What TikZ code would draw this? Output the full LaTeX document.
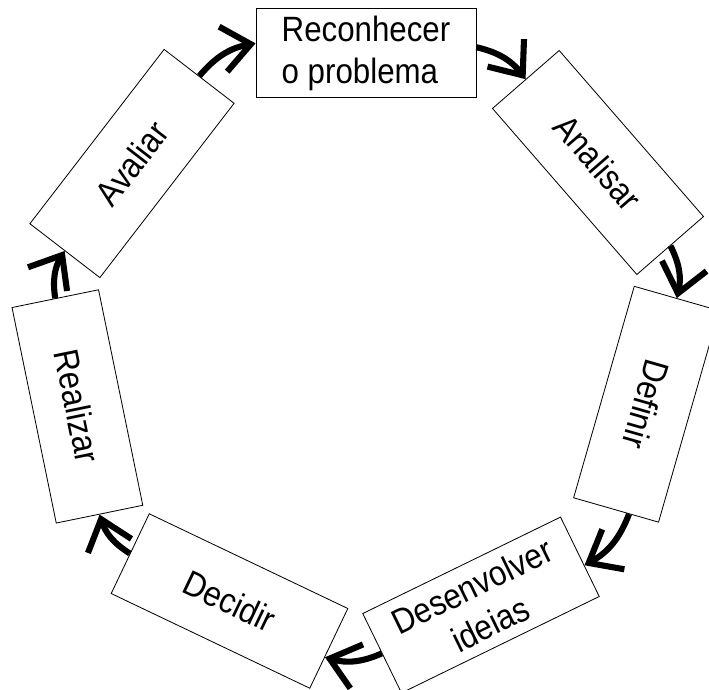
\documentclass[tikz,border=0pt]{standalone}
\usepackage{fontspec}
\setmainfont{Liberation Sans}[FakeStretch=0.89]
\usetikzlibrary{arrows.meta}

\begin{document}
\begin{tikzpicture}[x=0.03cm, y=-0.03cm,
  caixa/.style={draw, line width=0.7pt, fill=white, minimum width=6.6cm, minimum height=2.65cm,
    inner sep=0pt, font=\fontsize{30}{36}\selectfont, align=center},
  seta/.style={line width=5.2pt, -{Straight Barb[length=24pt, width=39pt]}, bend left=20}]
\useasboundingbox (0,0) rectangle (709,689);
%% Nodes
\node[caixa, align=left] (reconhecer) at (366,53) {Reconhecer\\o problema};
\node[caixa, rotate=-49] (analisar) at (598,162.5) {Analisar};
\node[caixa, rotate=-106] (definir) at (646.4,404.2) {Definir};
\node[caixa, rotate=26] (desenvolver) at (481,605) {Desenvolver\\ideias};
\node[caixa, rotate=-25.5] (decidir) at (229.5,601) {Decidir};
\node[caixa, rotate=-78.4] (realizar) at (77.4,406.4) {Realizar};
\node[caixa, rotate=52.4] (avaliar) at (132,163.5) {Avaliar};
%% Lines
\draw[seta] (avaliar.east) to (reconhecer.175);
\draw[seta] (reconhecer.3) to (analisar.west);
\draw[seta] (analisar.east) to (definir.west);
\draw[seta] (definir.7) to (desenvolver.-5);
\draw[seta] (desenvolver.west) to (decidir.-5);
\draw[seta] (decidir.west) to (realizar.east);
\draw[seta] (realizar.west) to (avaliar.west);
\end{tikzpicture}
\end{document}
